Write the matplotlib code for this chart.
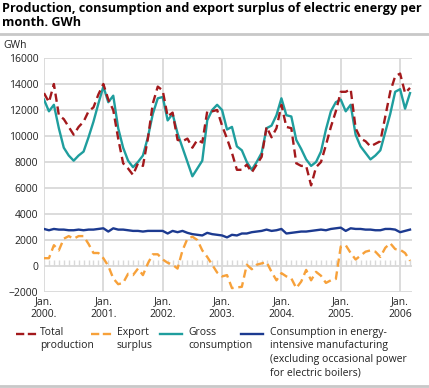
import numpy as np
import matplotlib.pyplot as plt
from matplotlib.lines import Line2D

plt.rcParams['font.family'] = ['Open Sans', 'DejaVu Sans']

# monthly values, Jan 2000 - Mar 2006 (GWh)
total_production = [
    13300, 12600, 14000, 11600, 11300, 10700, 10100, 10700, 11100, 11900, 12200, 13200,
    14000, 12800, 12000, 9800, 7900, 7500, 7000, 7900, 7700, 9800, 12500, 13800,
    13500, 11500, 11800, 9700, 9600, 9800, 9100, 9700, 9500, 11900, 11900, 12000,
    10800, 9800, 8700, 7400, 7400, 7800, 7200, 7800, 8400, 10700, 9900, 10600,
    12400, 10700, 10600, 7900, 7700, 7700, 6200, 7600, 8000, 9300, 10700, 11900,
    13400, 13400, 13600, 10600, 9800, 9600, 9200, 9400, 9600, 11500, 13400, 14600,
    14800, 13300, 13700]
export_surplus = [
    600, 600, 1600, 1200, 2100, 2300, 2100, 2300, 2300, 1700, 1000, 1000,
    600, 0, -950, -1400, -1300, -600, -700, -200, -700, 200, 900, 900,
    500, 250, 100, -200, 1200, 2100, 2250, 2000, 1200, 700, 100, -500,
    -800, -700, -1700, -1650, -1600, 100, -250, 100, 200, 300, -450, -1100,
    -550, -800, -950, -1700, -1200, -300, -1100, -450, -750, -1300, -1100, -1000,
    1500, 1600, 1000, 500, 800, 1100, 1200, 1100, 700, 1400, 1750, 1300,
    1250, 1000, 400]
gross_consumption = [
    12800, 11900, 12400, 10600, 9100, 8500, 8100, 8500, 8800, 9900, 11100, 12500,
    13800, 12600, 13100, 10600, 9100, 8100, 7600, 8000, 8500, 9900, 11700, 12900,
    13000, 11200, 11700, 10200, 9100, 8000, 6900, 7500, 8100, 11200, 12000, 12400,
    12000, 10500, 10700, 9200, 8900, 8000, 7400, 8000, 8700, 10600, 10800, 11600,
    12900, 11600, 11500, 9700, 9000, 8200, 7700, 8000, 8800, 10500, 11900, 12600,
    12800, 11900, 12400, 10100, 9200, 8700, 8200, 8500, 8900, 10300, 11700, 13400,
    13600, 12100, 13300]
energy_intensive = [
    2850, 2750, 2850, 2800, 2800, 2750, 2750, 2800, 2750, 2800, 2800, 2850,
    2900, 2650, 2900, 2800, 2800, 2750, 2700, 2700, 2650, 2700, 2700, 2700,
    2700, 2500, 2700, 2600, 2700, 2550, 2450, 2400, 2350, 2550, 2450, 2400,
    2350, 2200, 2400, 2350, 2500, 2500, 2600, 2650, 2700, 2800, 2700, 2750,
    2850, 2500, 2550, 2600, 2650, 2650, 2700, 2750, 2800, 2750, 2850, 2900,
    2950, 2700, 2900, 2850, 2850, 2800, 2800, 2750, 2750, 2850, 2850, 2800,
    2600, 2700, 2800]
tick_labels = ['Jan.\n2000.', 'Jan.\n2001.', 'Jan.\n2002.', 'Jan.\n2003.',
               'Jan.\n2004.', 'Jan.\n2005.', 'Jan.\n2006']
legend_labels = ['Total\nproduction', 'Export\nsurplus', 'Gross\nconsumption',
                 'Consumption in energy-\nintensive manufacturing\n(excluding occasional power\nfor electric boilers)']

W, H = 429, 388
months = np.arange(len(total_production))

fig = plt.figure(figsize=(W / 100, H / 100), dpi=100)
ax = fig.add_axes([44 / W, 1 - 292 / H, (412 - 44) / W, (292 - 58) / H])

grid_c = '#d9d9d9'
txt_c = '#222222'
c_tot, c_exp, c_gross, c_ind = '#a3191c', '#f7a13a', '#1f9e9e', '#1c3a90'

ax.set_xlim(0, 74.4)
ax.set_ylim(-2000, 16000)
ax.set_yticks(range(-2000, 16001, 2000))
ax.set_xticks(range(0, 73, 12), labels=tick_labels)
ax.grid(True, color=grid_c, lw=1.3)
ax.set_axisbelow(True)
for s in ax.spines.values():
    s.set_visible(False)
ax.tick_params(length=0, labelsize=7.5, colors=txt_c)
ax.tick_params(axis='y', pad=4)
ax.tick_params(axis='x', pad=3)
for t in ax.get_xticklabels():
    t.set_linespacing(1.2)

# monthly marks on the zero line
ax.vlines(months, 0, 450, color=grid_c, lw=1)

ax.plot(months, energy_intensive, color=c_ind, lw=1.7)
ax.plot(months, gross_consumption, color=c_gross, lw=1.7)
ax.plot(months, export_surplus, color=c_exp, lw=1.7, dashes=(3.5, 2))
ax.plot(months, total_production, color=c_tot, lw=1.7, dashes=(3.5, 2))

fig.text(2 / W, 1 - 2 / H,
         'Production, consumption and export surplus of electric energy per\nmonth. GWh',
         fontsize=9.1, fontweight='bold', va='top', ha='left', linespacing=1.15)
fig.text(3 / W, 1 - 45 / H, 'GWh', fontsize=7.5, va='center', ha='left', color=txt_c)

fig.add_artist(Line2D([0, 1], [1 - 34 / H] * 2, color='#c8c8c8', lw=2))
fig.add_artist(Line2D([0, 1], [1 - 386 / H] * 2, color='#c8c8c8', lw=2))

# legend
entries = [(16, 40, c_tot, True), (91, 117, c_exp, True),
           (160, 188, c_gross, False), (241, 270, c_ind, False)]
for (hx, tx, col, dashed), lab in zip(entries, legend_labels):
    ln = Line2D([hx / W, (hx + 22) / W], [1 - 334 / H] * 2, color=col, lw=1.7)
    if dashed:
        ln.set_dashes((3.5, 1.5))
    fig.add_artist(ln)
    fig.text(tx / W, 1 - 327 / H, lab, fontsize=7.5, va='top', ha='left',
             linespacing=1.3, color=txt_c)

fig.savefig('out.png', dpi=100)
